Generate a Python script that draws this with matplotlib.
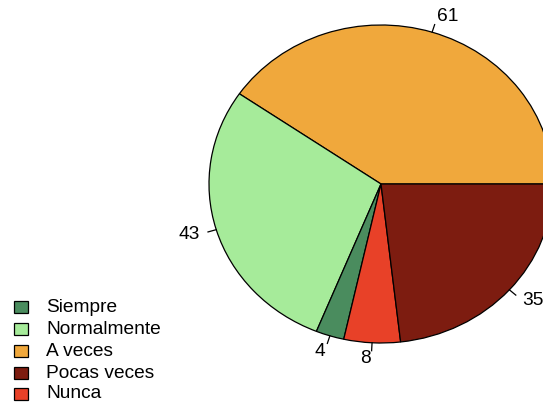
import numpy as np
import matplotlib
matplotlib.use("Agg")
import matplotlib.pyplot as plt
from matplotlib.patches import Rectangle

# Data (pie order counterclockwise from 3 o'clock)
categories = ["A veces", "Normalmente", "Siempre", "Nunca", "Pocas veces"]
values = [61, 43, 4, 8, 35]
colors = ["#f0a83c", "#a6eb9a", "#4a8c5e", "#e84128", "#7d1c10"]

legend_labels = ["Siempre", "Normalmente", "A veces", "Pocas veces", "Nunca"]
legend_colors = ["#4a8c5e", "#a6eb9a", "#f0a83c", "#7d1c10", "#e84128"]

W, H = 543, 405
fig = plt.figure(figsize=(W / 100, H / 100), dpi=100)
ax = fig.add_axes([0, 0, 1, 1])
ax.set_aspect("auto")

rx, ry = 172.0, 159.0
cx, cy = 381.0, 184.0

wedges, _ = ax.pie(values, colors=colors, startangle=0, counterclock=True,
                   radius=1.0, wedgeprops=dict(edgecolor="black", linewidth=0.9),
                   normalize=True)
ax.set_aspect("auto")
ax.set_xlim(-cx / rx, (W - cx) / rx)
ax.set_ylim(-(H - cy) / ry, cy / ry)
ax.axis("off")

font = "Liberation Sans"
fs = 13.8
total = sum(values)
start = 0.0
for v in values:
    ang = np.deg2rad(start + v / total * 360 / 2)
    start += v / total * 360
    c, s = np.cos(ang), np.sin(ang)
    ax.plot([c, 1.05 * c], [s, 1.05 * s], color="black", lw=0.9)
    ax.text(1.1 * c, 1.1 * s, str(v), ha="left" if c > 0 else "right",
            va="center", fontsize=fs, family=font)

# Legend
ys = [307, 329, 351, 373, 394]
for lab, col, y in zip(legend_labels, legend_colors, ys):
    fig.patches.append(Rectangle(((13.5) / W, 1 - (y + 6) / H), 14 / W, 12 / H,
                                 transform=fig.transFigure, facecolor=col,
                                 edgecolor="black", linewidth=0.9))
    fig.text(46 / W, 1 - y / H, lab, ha="left", va="center", fontsize=fs,
             family=font)

fig.savefig("out.png", dpi=100)
